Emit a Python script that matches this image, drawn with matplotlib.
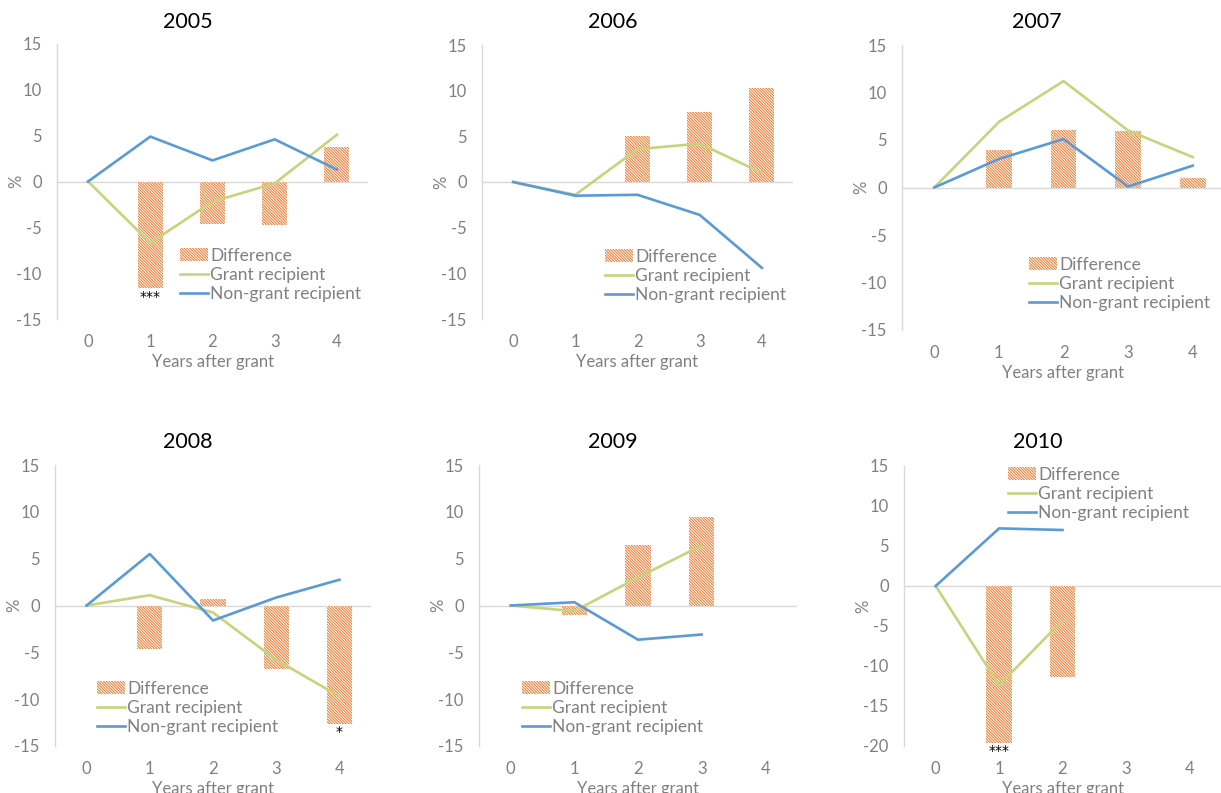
import numpy as np
import matplotlib
matplotlib.use("Agg")
import matplotlib.pyplot as plt
from matplotlib.patches import Patch
from matplotlib.lines import Line2D

plt.rcParams['font.family'] = ['Lato', 'DejaVu Sans']
plt.rcParams['hatch.linewidth'] = 0.75
plt.rcParams['axes.unicode_minus'] = False

W, H = 1221, 793

# growth vs. years after grant, one panel per cohort
titles = ['2005', '2006', '2007', '2008', '2009', '2010']
years_after = [0, 1, 2, 3, 4]

diff_2005 = [0, -11.6, -4.6, -4.7, 3.8]
grant_2005 = [0, -6.7, -2.2, -0.2, 5.1]
nongrant_2005 = [0, 4.9, 2.3, 4.6, 1.3]
sig_2005 = ['', '***', '', '', '']

diff_2006 = [0, 0, 5.0, 7.7, 10.3]
grant_2006 = [0, -1.4, 3.6, 4.2, 1.0]
nongrant_2006 = [0, -1.5, -1.4, -3.6, -9.4]
sig_2006 = ['', '', '', '', '']

diff_2007 = [0, 3.9, 6.1, 6.0, 1.0]
grant_2007 = [0, 6.9, 11.2, 6.0, 3.2]
nongrant_2007 = [0, 3.0, 5.1, 0.1, 2.3]
sig_2007 = ['', '', '', '', '']

diff_2008 = [0, -4.6, 0.7, -6.8, -12.6]
grant_2008 = [0, 1.1, -0.75, -5.8, -9.7]
nongrant_2008 = [0, 5.5, -1.6, 0.85, 2.75]
sig_2008 = ['', '', '', '', '*']

diff_2009 = [0, -1.0, 6.5, 9.5]
grant_2009 = [0, -0.6, 3.0, 6.4]
nongrant_2009 = [0, 0.35, -3.65, -3.1]
sig_2009 = ['', '', '', '']

diff_2010 = [0, -19.6, -11.4]
grant_2010 = [0, -12.4, -4.3]
nongrant_2010 = [0, 7.2, 7.0]
sig_2010 = ['', '***', '']

c_diff = '#ED7D31'
c_grant = '#C9D27C'
c_non = '#5B9BD5'
c_text = '#808080'
c_axis = '#D9D9D9'
hatch = '\\' * 12

# pixel boxes: x0, x1, y of top tick, y of bottom tick, ylim, yticks
panels = [
    (57, 368, 44, 319, (-15, 15), [-15, -10, -5, 0, 5, 10, 15]),
    (482, 793, 45, 319, (-15, 15), [-15, -10, -5, 0, 5, 10, 15]),
    (902, 1225, 45, 330, (-15, 15), [-15, -10, -5, 0, 5, 10, 15]),
    (55, 371, 465, 746, (-15, 15), [-15, -10, -5, 0, 5, 10, 15]),
    (479, 797, 465, 746, (-15, 15), [-15, -10, -5, 0, 5, 10, 15]),
    (904, 1221, 466, 746, (-20, 15), [-20, -15, -10, -5, 0, 5, 10, 15]),
]
title_pos = [(188, 22), (613, 22), (1037, 22), (188, 442), (613, 442), (1038, 442)]
legend_pos = [(180, 275), (605, 276), (1029, 284), (97, 708), (522, 708), (1008, 494)]

series = [
    (diff_2005, grant_2005, nongrant_2005, sig_2005),
    (diff_2006, grant_2006, nongrant_2006, sig_2006),
    (diff_2007, grant_2007, nongrant_2007, sig_2007),
    (diff_2008, grant_2008, nongrant_2008, sig_2008),
    (diff_2009, grant_2009, nongrant_2009, sig_2009),
    (diff_2010, grant_2010, nongrant_2010, sig_2010),
]

fig = plt.figure(figsize=(W / 100, H / 100), dpi=100)
fig.patch.set_facecolor('white')

for i, (x0, x1, yt, yb, ylim, yticks) in enumerate(panels):
    ax = fig.add_axes([x0 / W, 1 - yb / H, (x1 - x0) / W, (yb - yt) / H])
    diff, grant, non, sig = series[i]

    ax.bar(range(len(diff)), diff, width=0.4, color='white', edgecolor=c_diff,
           hatch=hatch, linewidth=0, zorder=2)
    ax.plot(range(len(grant)), grant, color=c_grant, lw=1.9, zorder=3)
    ax.plot(range(len(non)), non, color=c_non, lw=1.9, zorder=4)
    for k, s in enumerate(sig):
        if s:
            ax.text(k, diff[k] - 0.2, s, ha='center', va='top', fontsize=10,
                    color='black', family='DejaVu Sans')

    ax.axhline(0, color=c_axis, lw=1.0, zorder=1)
    ax.set_xlim(-0.5, 4.5)
    ax.set_ylim(*ylim)
    ax.set_xticks(years_after)
    ax.set_yticks(yticks)
    for side in ['top', 'right', 'bottom']:
        ax.spines[side].set_visible(False)
    ax.spines['left'].set_color(c_axis)
    ax.spines['left'].set_linewidth(1.0)
    ax.tick_params(axis='y', length=0, pad=11, labelsize=12, labelcolor=c_text)
    ax.tick_params(axis='x', length=0, pad=11, labelsize=12, labelcolor=c_text)
    ax.set_xlabel('Years after grant', fontsize=12, color=c_text, labelpad=3)
    ax.set_ylabel('%', fontsize=12, color=c_text)
    ax.yaxis.set_label_coords(-33 / (x1 - x0), 0.5)

    tx, ty = title_pos[i]
    fig.text(tx / W, 1 - ty / H, titles[i], ha='center', va='center', fontsize=15.5,
             color='black')

    handles = [
        Patch(facecolor='white', edgecolor=c_diff, hatch=hatch, linewidth=0),
        Line2D([], [], color=c_grant, lw=1.9),
        Line2D([], [], color=c_non, lw=1.9),
    ]
    lx, ly = legend_pos[i]
    leg = ax.legend(handles, ['Difference', 'Grant recipient', 'Non-grant recipient'],
                    loc='center left', bbox_to_anchor=(lx / W, 1 - ly / H),
                    bbox_transform=fig.transFigure, frameon=False, fontsize=12.5,
                    handlelength=1.6, handleheight=0.7, handletextpad=0.15,
                    labelspacing=0.2, borderpad=0, borderaxespad=0)
    for t in leg.get_texts():
        t.set_color(c_text)

fig.savefig('out.png', dpi=100)
